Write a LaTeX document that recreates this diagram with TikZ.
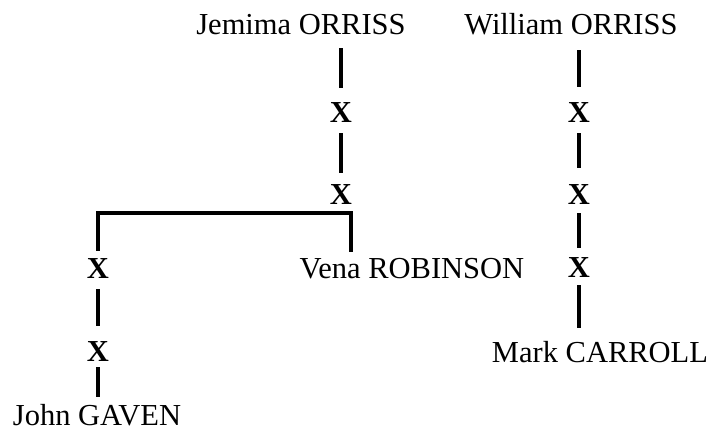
\documentclass[tikz,border=0pt]{standalone}
\usepackage{fontspec}
\setmainfont{Liberation Serif}
\begin{document}
\begin{tikzpicture}[x=1pt,y=-1pt,
  person/.style={anchor=base,inner sep=0pt,text height=20pt,text depth=0pt,
    font=\fontsize{30.5}{36}\selectfont},
  gen/.style={person,font=\fontsize{30.5}{36}\selectfont\bfseries},
  link/.style={line width=3.5pt,line cap=butt,line join=miter}]
\useasboundingbox (0,0) rectangle (716,430);

% named people
\node[person] (jem)  at (301,35)  {Jemima ORRISS};
\node[person] (wil)  at (571,35)  {William ORRISS};
\node[person] (vena) at (412,279) {Vena ROBINSON};
\node[person] (mark) at (600,363) {Mark CARROLL};
\node[person] (john) at (97,426)  {John GAVEN};

% unnamed generations
\node[gen] (jx1) at (341,123) {X};
\node[gen] (jx2) at (341,205) {X};
\node[gen] (wx1) at (579,123) {X};
\node[gen] (wx2) at (579,205) {X};
\node[gen] (wx3) at (579,278) {X};
\node[gen] (lx1) at (98,279)  {X};
\node[gen] (lx2) at (98,362)  {X};

\coordinate (bar) at (351,213);

% Jemima's line
\draw[link,shorten <=13pt,shorten >=15pt] (jx1 |- jem.south) -- (jx1.north);
\draw[link,shorten <=10pt,shorten >=12pt] (jx2 |- jx1.south) -- (jx2.north);
\draw[link,shorten <=8pt,shorten >=7pt] (lx1.north) |- (bar) -- (bar |- vena.north);
\draw[link,shorten <=10pt,shorten >=16pt] (lx1.south) -- (lx2.north);
\draw[link,shorten <=5pt,shorten >=9pt] (lx2.south) -- (lx2 |- john.north);

% William's line
\draw[link,shorten <=15pt,shorten >=16pt] (wx1 |- wil.south) -- (wx1.north);
\draw[link,shorten <=10pt,shorten >=17pt] (wx1.south) -- (wx2.north);
\draw[link,shorten <=8pt,shorten >=10pt] (wx2.south) -- (wx3.north);
\draw[link,shorten <=7pt,shorten >=15pt] (wx3.south) -- (wx3 |- mark.north);
\end{tikzpicture}
\end{document}
